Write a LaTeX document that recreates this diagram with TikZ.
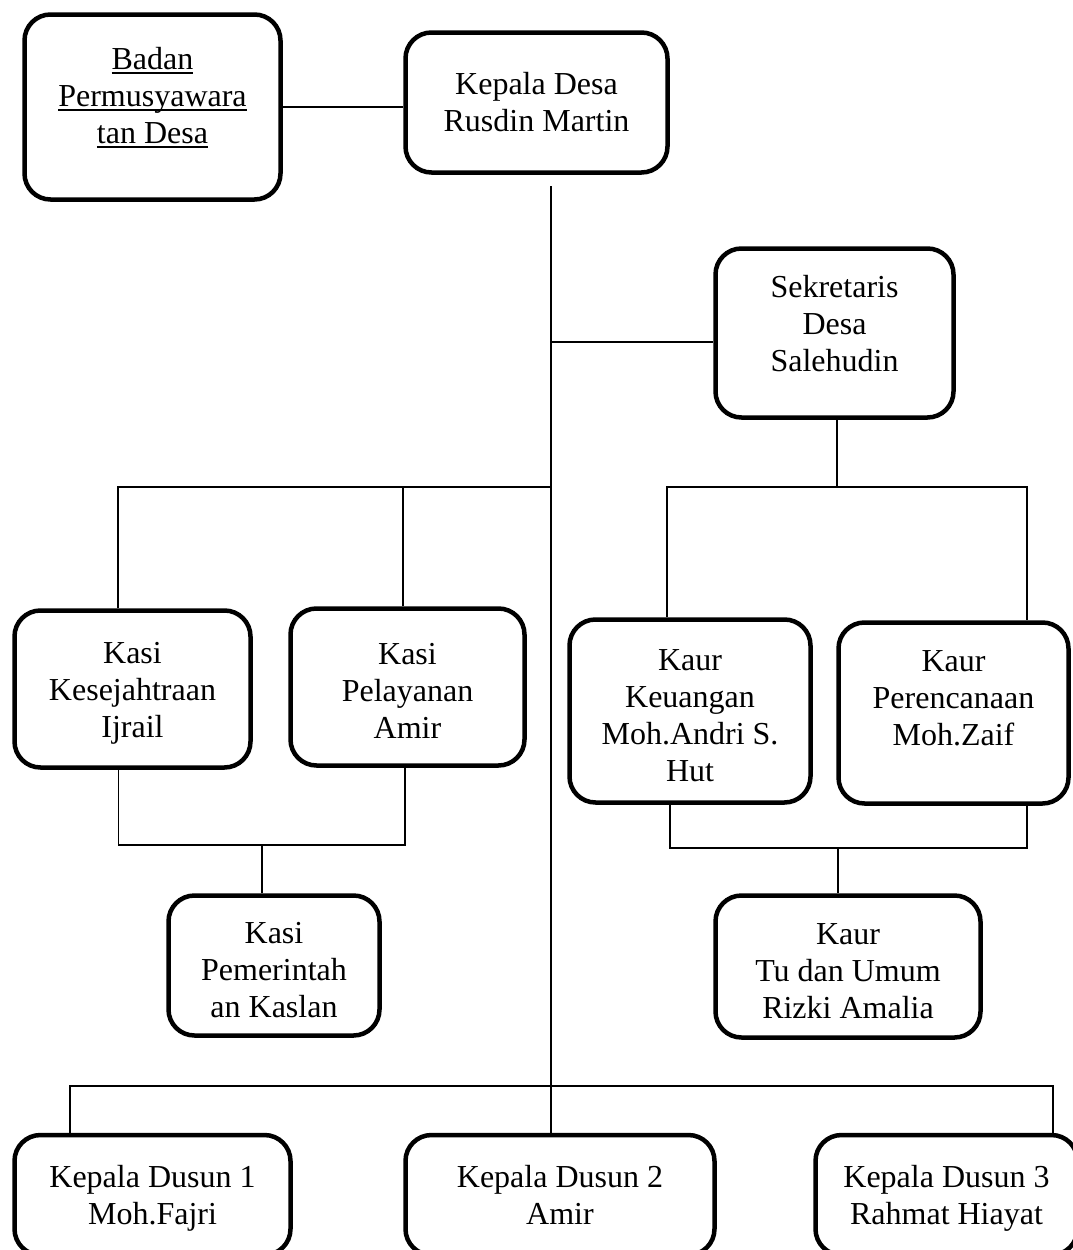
\documentclass[tikz,border=0pt]{standalone}
\usepackage{fontspec}
\setmainfont{Liberation Serif}
\usetikzlibrary{positioning}

\newcommand\bpdline[1]{\setbox0\hbox{#1}\rlap{\rule[-4.5pt]{\wd0}{1.8pt}}\box0}

\begin{document}
\begin{tikzpicture} [
						x=1pt, y=-1pt,
						box/.style 2 args={draw, line width=4.5pt, rounded corners=26pt, align=center,
							inner sep=0pt, minimum width=#1, minimum height=#2,
							font=\fontsize{32}{37}\selectfont},
						link/.style={line width=1.6pt}
					]

\useasboundingbox (0,0) rectangle (1073,1250);

\node (bpd) [box={256pt}{185pt}, text depth=24pt] at (152.5,107) {\bpdline{Badan}\\\bpdline{Permusyawara}\\\bpdline{tan Desa}};
\node (kades) [box={262pt}{140pt}] at (536.5,102.5) {Kepala Desa\\Rusdin Martin};
\node (sekdes) [box={238pt}{169pt}, text depth=20pt] at (834.5,333) {Sekretaris\\Desa\\Salehudin};
\node (kesra) [box={236pt}{157pt}, text height=104pt] at (132.5,689) {Kasi\\Kesejahtraan\\Ijrail};
\node (pelayanan) [box={234pt}{157pt}, text height=102pt] at (407.5,687) {Kasi\\Pelayanan\\Amir};
\node (keuangan) [box={241pt}{183pt}, text height=142pt] at (690,711) {Kaur\\Keuangan\\Moh.Andri S.\\Hut};
\node (perencanaan) [box={230pt}{181pt}, text depth=30pt] at (953.5,713) {Kaur\\Perencanaan\\Moh.Zaif};
\node (pemerintah) [box={211pt}{140pt}, text height=104pt] at (274,965.5) {Kasi\\Pemerintah\\an Kaslan};
\node (tu) [box={265pt}{142pt}, text height=104pt] at (848,966.5) {Kaur\\Tu dan Umum\\Rizki Amalia};
\node (dusun1) [box={276pt}{120pt}, text height=65pt, text depth=7pt] at (152.5,1195) {Kepala Dusun 1\\Moh.Fajri};
\node (dusun2) [box={309pt}{120pt}, text height=65pt, text depth=7pt] at (560,1195) {Kepala Dusun 2\\Amir};
\node (dusun3) [box={262pt}{120pt}, text height=65pt, text depth=7pt] at (946.5,1195) {Kepala Dusun 3\\Rahmat Hiayat};

\coordinate (t0) at (551,186);
\coordinate (jS) at (551,342);
\coordinate (jL) at (551,487);
\coordinate (jR) at (837,487);
\coordinate (jK) at (262,845);
\coordinate (jT) at (838,848);
\coordinate (jB) at (551,1086);

\draw[link] (bpd.east) -- (bpd.east -| kades.west);
\draw[link] (t0) -- (t0 |- dusun2.north);
\draw[link] (jS) -- (jS -| sekdes.west);
\draw[link] ([xshift=-14.5]kesra.north) |- (jL);
\draw[link] ([xshift=-4.5]pelayanan.north) -- ([xshift=-4.5]pelayanan.north |- jL);
\draw[link] (sekdes.south -| jR) -- (jR);
\draw[link] ([xshift=-23]keuangan.north) |- (jR) -| ([xshift=73.5]perencanaan.north);
\draw[link] ([xshift=-14]kesra.south) |- (jK) -| ([xshift=-2.5]pelayanan.south);
\draw[link] (jK) -- (jK |- pemerintah.north);
\draw[link] ([xshift=-20]keuangan.south) |- (jT) -| ([xshift=73.5]perencanaan.south);
\draw[link] (jT) -- (jT |- tu.north);
\draw[link] ([xshift=-82.5]dusun1.north) |- (jB) -| ([xshift=106.5]dusun3.north);

\end{tikzpicture}
\end{document}
